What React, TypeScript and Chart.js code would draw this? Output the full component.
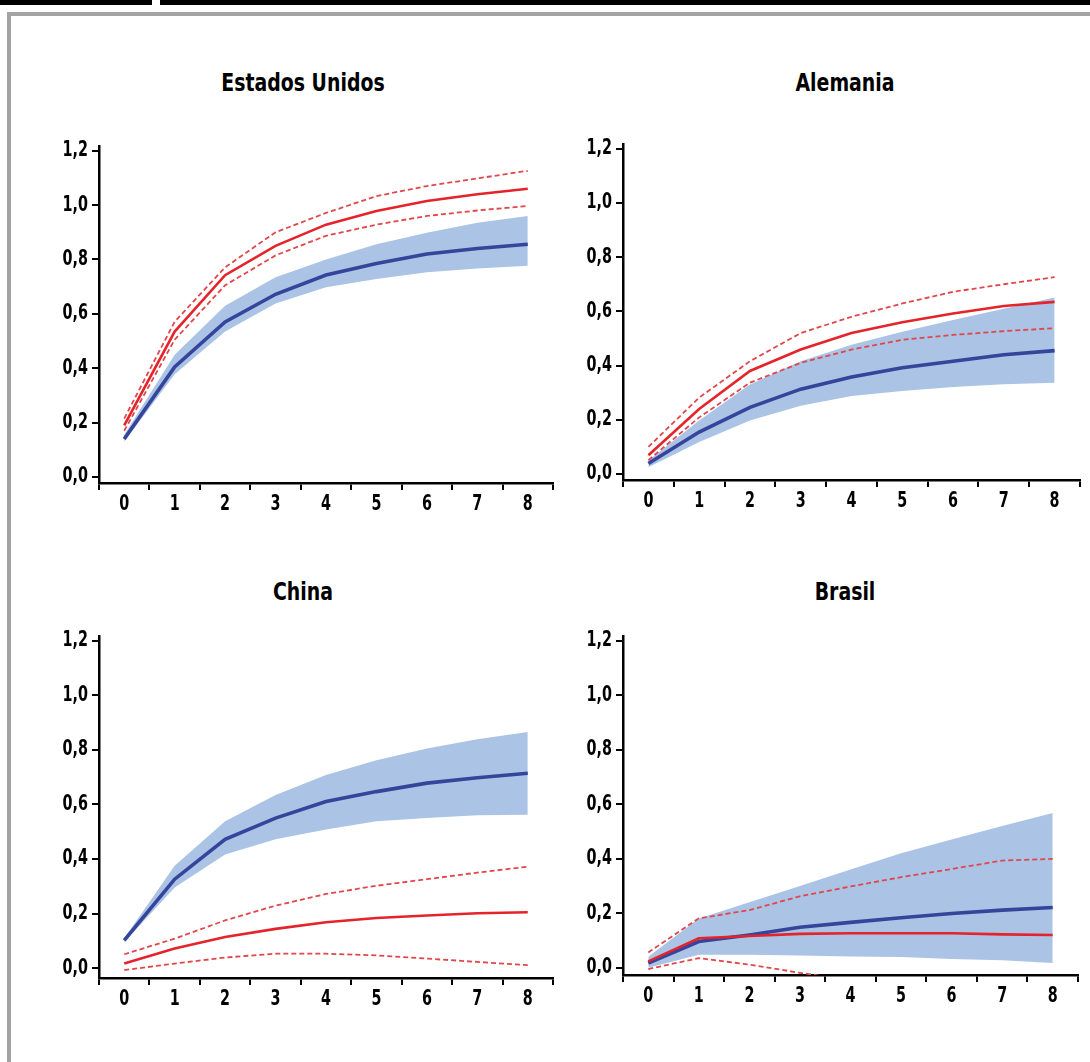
import React, { useEffect, useRef } from "react";
import { Chart, registerables } from "chart.js";

Chart.register(...registerables);

const categories = ["0", "1", "2", "3", "4", "5", "6", "7", "8"];
const yTickValues = [0, 0.2, 0.4, 0.6, 0.8, 1.0, 1.2];

// Estados Unidos
const usBlue = [0.14, 0.405, 0.57, 0.672, 0.743, 0.785, 0.82, 0.84, 0.856];
const usBandUpper = [0.155, 0.45, 0.63, 0.735, 0.8, 0.856, 0.898, 0.935, 0.96];
const usBandLower = [0.13, 0.378, 0.535, 0.638, 0.698, 0.728, 0.753, 0.767, 0.777];
const usRed = [0.19, 0.535, 0.742, 0.85, 0.928, 0.978, 1.015, 1.04, 1.06];
const usRedUpper = [0.215, 0.571, 0.771, 0.9, 0.971, 1.033, 1.07, 1.098, 1.126];
const usRedLower = [0.17, 0.505, 0.705, 0.815, 0.887, 0.928, 0.96, 0.98, 0.997];

// Alemania
const deBlue = [0.039, 0.155, 0.246, 0.313, 0.358, 0.392, 0.416, 0.44, 0.455];
const deBandUpper = [0.05, 0.197, 0.33, 0.416, 0.477, 0.525, 0.568, 0.61, 0.651];
const deBandLower = [0.025, 0.118, 0.197, 0.252, 0.288, 0.306, 0.321, 0.331, 0.337];
const deRed = [0.069, 0.24, 0.38, 0.459, 0.52, 0.56, 0.592, 0.62, 0.635];
const deRedUpper = [0.1, 0.282, 0.416, 0.52, 0.58, 0.629, 0.672, 0.7, 0.726];
const deRedLower = [0.051, 0.209, 0.337, 0.41, 0.459, 0.495, 0.513, 0.527, 0.538];

// China
const cnBlue = [0.102, 0.326, 0.472, 0.55, 0.611, 0.647, 0.678, 0.698, 0.714];
const cnBandUpper = [0.11, 0.375, 0.538, 0.635, 0.708, 0.762, 0.805, 0.839, 0.865];
const cnBandLower = [0.095, 0.296, 0.417, 0.472, 0.508, 0.538, 0.55, 0.56, 0.562];
const cnRed = [0.017, 0.072, 0.114, 0.144, 0.168, 0.184, 0.193, 0.201, 0.205];
const cnRedUpper = [0.051, 0.108, 0.175, 0.229, 0.272, 0.302, 0.326, 0.35, 0.372];
const cnRedLower = [-0.007, 0.017, 0.039, 0.053, 0.053, 0.047, 0.035, 0.023, 0.011];

// Brasil
const brBlue = [0.017, 0.096, 0.12, 0.148, 0.166, 0.183, 0.199, 0.211, 0.221];
const brBandUpper = [0.04, 0.18, 0.24, 0.3, 0.36, 0.42, 0.47, 0.52, 0.568];
const brBandLower = [0.0, 0.047, 0.047, 0.045, 0.041, 0.039, 0.032, 0.027, 0.017];
const brRed = [0.023, 0.108, 0.116, 0.124, 0.126, 0.126, 0.126, 0.122, 0.12];
const brRedUpper = [0.056, 0.181, 0.211, 0.262, 0.298, 0.332, 0.362, 0.393, 0.399];
const brRedLower = [-0.005, 0.035, 0.011, -0.019, -0.046, -0.073, -0.1, -0.127, -0.154];

const FONT = "'DejaVu Sans Condensed', 'DejaVu Sans', sans-serif";
const BLUE = "#34459b";
const BAND = "#abc3e4";
const RED = "#e4232b";
const RED_DASH = "#e0474b";
const TEXT_SCALE_X = 0.76;

type PanelProps = {
  title: string;
  blue: number[];
  bandUpper: number[];
  bandLower: number[];
  red: number[];
  redUpper: number[];
  redLower: number[];
  yMin: number;
  left: number;
  top: number;
  width: number;
  height: number;
  padTop: number;
  padRight: number;
  xHeight: number;
  yWidth: number;
  titleX: number;
  titleY: number;
};

function Panel(p: PanelProps) {
  const ref = useRef<HTMLCanvasElement | null>(null);
  useEffect(() => {
    if (!ref.current) return;
    const ctx = ref.current.getContext("2d") as CanvasRenderingContext2D;
    const origFill = ctx.fillText.bind(ctx);
    // condense tick label glyphs horizontally around their anchor point
    (ctx as any).fillText = (t: string, x: number, y: number, mw?: number) => {
      ctx.save();
      ctx.translate(x, y);
      ctx.scale(TEXT_SCALE_X, 1);
      if (mw !== undefined) origFill(t, 0, 0, mw / TEXT_SCALE_X);
      else origFill(t, 0, 0);
      ctx.restore();
    };
    const chart = new Chart(ref.current, {
      type: "line",
      data: {
        labels: categories,
        datasets: [
          { data: p.red, borderColor: RED, borderWidth: 2.6, pointRadius: 0, tension: 0, fill: false },
          { data: p.redUpper, borderColor: RED_DASH, borderWidth: 1.8, borderDash: [5, 3], pointRadius: 0, tension: 0, fill: false },
          { data: p.redLower, borderColor: RED_DASH, borderWidth: 1.8, borderDash: [5, 3], pointRadius: 0, tension: 0, fill: false },
          { data: p.blue, borderColor: BLUE, borderWidth: 3.6, pointRadius: 0, tension: 0, fill: false },
          { data: p.bandUpper, borderWidth: 0, borderColor: "rgba(0,0,0,0)", backgroundColor: BAND, pointRadius: 0, tension: 0, fill: "+1" },
          { data: p.bandLower, borderWidth: 0, borderColor: "rgba(0,0,0,0)", pointRadius: 0, tension: 0, fill: false },
        ],
      },
      options: {
        responsive: false,
        animation: false,
        events: [],
        layout: { padding: { top: p.padTop, right: p.padRight, left: 0, bottom: 0 } },
        plugins: { legend: { display: false }, title: { display: false }, tooltip: { enabled: false } },
        scales: {
          x: {
            type: "category",
            offset: true,
            grid: { offset: true, drawOnChartArea: false, color: "#000", lineWidth: 2, tickLength: 7 },
            border: { color: "#000", width: 2.5 },
            ticks: { color: "#000", font: { family: FONT, size: 21, weight: "bold" }, padding: 2, maxRotation: 0, autoSkip: false },
            afterFit: (s: any) => { s.height = p.xHeight; },
          },
          y: {
            type: "linear",
            min: p.yMin,
            max: 1.215,
            afterBuildTicks: (s: any) => { s.ticks = yTickValues.map((v) => ({ value: v })); },
            grid: { drawOnChartArea: false, color: "#000", lineWidth: 2, tickLength: 7 },
            border: { color: "#000", width: 2.5 },
            ticks: {
              color: "#000",
              font: { family: FONT, size: 21, weight: "bold" },
              padding: 4,
              callback: (v: any) => Number(v).toFixed(1).replace(".", ","),
            },
            afterFit: (s: any) => { s.width = p.yWidth; },
          },
        },
      },
    } as any);
    return () => chart.destroy();
  }, []);
  return (
    <>
      <div
        style={{
          position: "absolute",
          left: p.titleX - 150,
          top: p.titleY - 15,
          width: 300,
          height: 30,
          lineHeight: "30px",
          textAlign: "center",
          fontFamily: FONT,
          fontWeight: "bold",
          fontSize: 25,
          color: "#000",
          transform: "scaleX(0.84)",
          transformOrigin: "50% 50%",
        }}
      >
        {p.title}
      </div>
      <canvas
        ref={ref}
        width={p.width}
        height={p.height}
        style={{ position: "absolute", left: p.left, top: p.top, width: p.width, height: p.height }}
      />
    </>
  );
}

export default function App() {
  return (
    <div style={{ position: "absolute", left: 0, top: 0, width: 1090, height: 1062, background: "#fff", overflow: "hidden" }}>
      <div style={{ position: "absolute", left: 0, top: 0, width: 152, height: 5, background: "#000" }} />
      <div style={{ position: "absolute", left: 160, top: 0, width: 930, height: 5, background: "#000" }} />
      <div style={{ position: "absolute", left: 7, top: 12, width: 1083, height: 4, background: "#a3a3a3" }} />
      <div style={{ position: "absolute", left: 7, top: 12, width: 4, height: 1050, background: "#a3a3a3" }} />
      <Panel title="Estados Unidos" blue={usBlue} bandUpper={usBandUpper} bandLower={usBandLower} red={usRed} redUpper={usRedUpper} redLower={usRedLower}
        yMin={-0.022} left={40} top={130} width={525} height={380} padTop={13} padRight={12} xHeight={27} yWidth={59} titleX={303} titleY={83} />
      <Panel title="Alemania" blue={deBlue} bandUpper={deBandUpper} bandLower={deBandLower} red={deRed} redUpper={deRedUpper} redLower={deRedLower}
        yMin={-0.022} left={564} top={128} width={526} height={380} padTop={13} padRight={10} xHeight={28} yWidth={59} titleX={845} titleY={83} />
      <Panel title="China" blue={cnBlue} bandUpper={cnBandUpper} bandLower={cnBandLower} red={cnRed} redUpper={cnRedUpper} redLower={cnRedLower}
        yMin={-0.036} left={40} top={620} width={525} height={385} padTop={14} padRight={12} xHeight={27} yWidth={59} titleX={303} titleY={592} />
      <Panel title="Brasil" blue={brBlue} bandUpper={brBandUpper} bandLower={brBandLower} red={brRed} redUpper={brRedUpper} redLower={brRedLower}
        yMin={-0.027} left={564} top={620} width={526} height={385} padTop={14} padRight={12} xHeight={30} yWidth={59} titleX={845} titleY={592} />
    </div>
  );
}
